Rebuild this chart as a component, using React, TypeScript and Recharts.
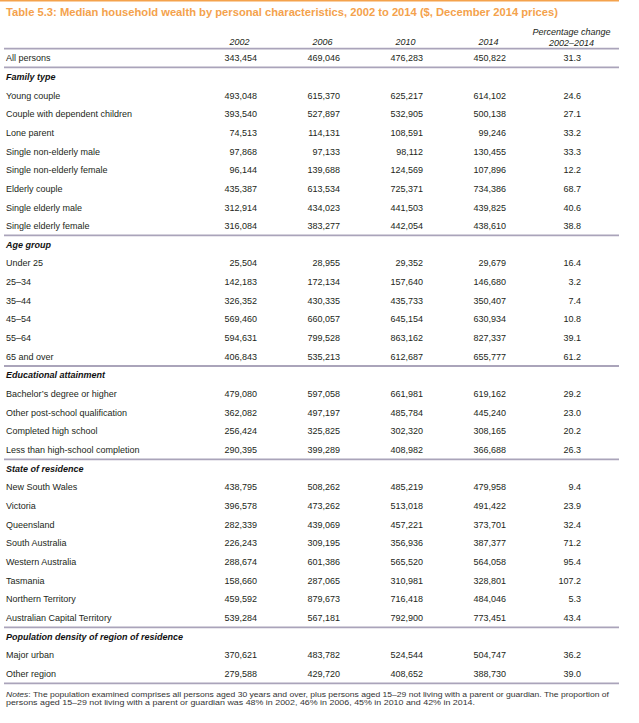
import React from "react";
import { ScatterChart, Scatter, XAxis, YAxis, ReferenceLine } from "recharts";

const TITLE =
  "Table 5.3: Median household wealth by personal characteristics, 2002 to 2014 ($, December 2014 prices)";
const NOTE_LABEL = "Notes";
const NOTE_LINE_1 =
  ": The population examined comprises all persons aged 30 years and over, plus persons aged 15–29 not living with a parent or guardian. The proportion of";
const NOTE_LINE_2 =
  "persons aged 15–29 not living with a parent or guardian was 48% in 2002, 46% in 2006, 45% in 2010 and 42% in 2014.";

const rowLabels = [
  "All persons",
  "Family type",
  "Young couple",
  "Couple with dependent children",
  "Lone parent",
  "Single non-elderly male",
  "Single non-elderly female",
  "Elderly couple",
  "Single elderly male",
  "Single elderly female",
  "Age group",
  "Under 25",
  "25–34",
  "35–44",
  "45–54",
  "55–64",
  "65 and over",
  "Educational attainment",
  "Bachelor’s degree or higher",
  "Other post-school qualification",
  "Completed high school",
  "Less than high-school completion",
  "State of residence",
  "New South Wales",
  "Victoria",
  "Queensland",
  "South Australia",
  "Western Australia",
  "Tasmania",
  "Northern Territory",
  "Australian Capital Territory",
  "Population density of region of residence",
  "Major urban",
  "Other region",
];

const sectionHeaders = [
  "Family type",
  "Age group",
  "Educational attainment",
  "State of residence",
  "Population density of region of residence",
];

const years = ["2002", "2006", "2010", "2014"];
const pctHeader = ["Percentage change", "2002–2014"];

const wealth2002 = [
  343454, null, 493048, 393540, 74513, 97868, 96144, 435387, 312914, 316084,
  null, 25504, 142183, 326352, 569460, 594631, 406843,
  null, 479080, 362082, 256424, 290395,
  null, 438795, 396578, 282339, 226243, 288674, 158660, 459592, 539284,
  null, 370621, 279588,
];
const wealth2006 = [
  469046, null, 615370, 527897, 114131, 97133, 139688, 613534, 434023, 383277,
  null, 28955, 172134, 430335, 660057, 799528, 535213,
  null, 597058, 497197, 325825, 399289,
  null, 508262, 473262, 439069, 309195, 601386, 287065, 879673, 567181,
  null, 483782, 429720,
];
const wealth2010 = [
  476283, null, 625217, 532905, 108591, 98112, 124569, 725371, 441503, 442054,
  null, 29352, 157640, 435733, 645154, 863162, 612687,
  null, 661981, 485784, 302320, 408982,
  null, 485219, 513018, 457221, 356936, 565520, 310981, 716418, 792900,
  null, 524544, 408652,
];
const wealth2014 = [
  450822, null, 614102, 500138, 99246, 130455, 107896, 734386, 439825, 438610,
  null, 29679, 146680, 350407, 630934, 827337, 655777,
  null, 619162, 445240, 308165, 366688,
  null, 479958, 491422, 373701, 387377, 564058, 328801, 484046, 773451,
  null, 504747, 388730,
];
const pctChange = [
  31.3, null, 24.6, 27.1, 33.2, 33.3, 12.2, 68.7, 40.6, 38.8,
  null, 16.4, 3.2, 7.4, 10.8, 39.1, 61.2,
  null, 29.2, 23.0, 20.2, 26.3,
  null, 9.4, 23.9, 32.4, 71.2, 95.4, 107.2, 5.3, 43.4,
  null, 36.2, 39.0,
];

// row boundaries where a rule is drawn
const dividers = [0, 1, 10, 17, 22, 31, 34];

const valueColumns = [wealth2002, wealth2006, wealth2010, wealth2014, pctChange];

const FONT = "'Liberation Sans', Arial, sans-serif";
const TEXT = "#231f20";
const RULE = "#aaa4ba";
const ORANGE = "#f4a24c";

type Cell = { x: number; y: number; v: number };

const buildSeries = (values: (number | null)[], col: number): Cell[] =>
  values
    .map((v, i) => (v == null ? null : { x: col, y: i + 0.5, v }))
    .filter((c): c is Cell => c !== null);

const series = valueColumns.map((vals, col) => buildSeries(vals, col));

const ValueCell = (props: any) => {
  const { cx, cy, payload } = props;
  if (cx == null || cy == null || !payload) return <g />;
  const isPct = payload.x === 4;
  const text = isPct
    ? Number(payload.v).toFixed(1)
    : Number(payload.v).toLocaleString("en-US");
  return (
    <text
      x={cx + (isPct ? 9.5 : 17.5)}
      y={cy}
      dy="0.35em"
      textAnchor="end"
      fontSize={9}
      fill={TEXT}
      fontFamily={FONT}
    >
      {text}
    </text>
  );
};

const HeaderTick = (props: any) => {
  const { x, y, payload } = props;
  const i = Number(payload.value);
  const common = {
    fontSize: 9,
    fill: TEXT,
    fontFamily: FONT,
    fontStyle: "italic",
    textAnchor: "middle" as const,
  };
  if (i < years.length) {
    return (
      <text x={x} y={y - 3.5} {...common}>
        {years[i]}
      </text>
    );
  }
  return (
    <g>
      <text x={x} y={y - 13.7} {...common}>
        {pctHeader[0]}
      </text>
      <text x={x} y={y - 2.7} {...common}>
        {pctHeader[1]}
      </text>
    </g>
  );
};

const RowTick = (props: any) => {
  const { x, y, payload } = props;
  const i = Math.floor(Number(payload.value));
  const label = rowLabels[i];
  const isSection = sectionHeaders.includes(label);
  return (
    <text
      x={x}
      y={y}
      dy="0.35em"
      textAnchor="start"
      fontSize={9}
      fill={isSection ? "#111" : TEXT}
      fontFamily={FONT}
      fontWeight={isSection ? 700 : 400}
      fontStyle={isSection ? "italic" : "normal"}
    >
      {label}
    </text>
  );
};

export default function App() {
  const rowTicks = rowLabels.map((_, i) => i + 0.5);
  return (
    <div style={{ position: "relative", width: 639, height: 723, background: "#fff" }}>
      <style>{"body{margin:0;}"}</style>
      <svg
        width={639}
        height={20}
        style={{ position: "absolute", left: 0, top: 0 }}
      >
        <rect x={0} y={0} width={619} height={1.5} fill={ORANGE} />
        <text
          x={6}
          y={16}
          fontSize={11.2}
          fontWeight={700}
          fill={ORANGE}
          fontFamily="'Liberation Sans', sans-serif"
        >
          {TITLE}
        </text>
      </svg>
      <div style={{ position: "absolute", left: 0, top: 20 }}>
        <ScatterChart
          width={639}
          height={670}
          margin={{ top: 0, right: 20, bottom: 6.7, left: 4 }}
        >
          <XAxis
            type="number"
            dataKey="x"
            orientation="top"
            domain={[-0.5, 4.5]}
            ticks={[0, 1, 2, 3, 4]}
            interval={0}
            padding={{ left: 194.1, right: 5.9 }}
            height={28.7}
            axisLine={false}
            tickLine={false}
            tickSize={0}
            tickMargin={0}
            tick={<HeaderTick />}
          />
          <YAxis
            type="number"
            dataKey="y"
            domain={[0, rowLabels.length]}
            reversed
            ticks={rowTicks}
            interval={0}
            mirror
            axisLine={false}
            tickLine={false}
            tickSize={0}
            tickMargin={2}
            tick={<RowTick />}
          />
          {dividers.map((d) => (
            <ReferenceLine key={d} y={d} stroke={RULE} strokeWidth={1.8} />
          ))}
          {series.map((data, col) => (
            <Scatter
              key={col}
              data={data}
              isAnimationActive={false}
              shape={<ValueCell />}
            />
          ))}
        </ScatterChart>
      </div>
      <svg
        width={639}
        height={30}
        style={{ position: "absolute", left: 0, top: 690 }}
      >
        <text
          x={6}
          y={6.6}
          fontSize={7.5}
          fill="#333"
          fontFamily={FONT}
          textLength={603}
          lengthAdjust="spacingAndGlyphs"
        >
          <tspan fontStyle="italic">{NOTE_LABEL}</tspan>
          {NOTE_LINE_1}
        </text>
        <text
          x={6}
          y={14.6}
          fontSize={7.5}
          fill="#333"
          fontFamily={FONT}
          textLength={469}
          lengthAdjust="spacingAndGlyphs"
        >
          {NOTE_LINE_2}
        </text>
      </svg>
    </div>
  );
}
